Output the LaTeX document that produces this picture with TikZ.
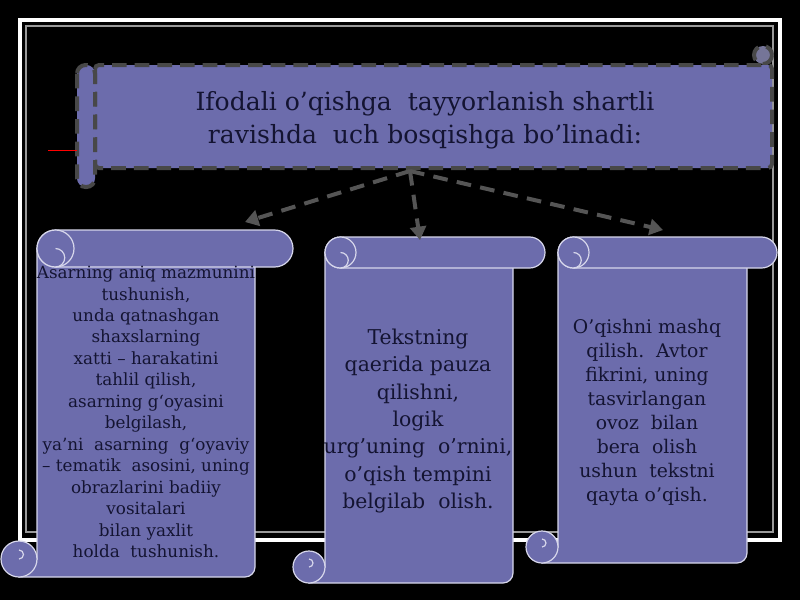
\documentclass[tikz,border=0pt]{standalone}
\usepackage{fontspec}
\setmainfont{DejaVu Serif}
\usetikzlibrary{arrows.meta}

\definecolor{rouleau}{RGB}{108,108,172}
\definecolor{bord}{RGB}{215,215,235}
\definecolor{tiret}{RGB}{72,72,72}
\definecolor{gris}{RGB}{85,85,85}
\definecolor{encre}{RGB}{20,20,50}

\tikzset{
  parchemin/.style={fill=rouleau, draw=bord, line width=0.9pt},
  bande/.style={fill=rouleau, draw=tiret, line width=3pt, dash pattern=on 11pt off 6pt},
  fleche/.style={draw=gris, line width=3pt, dash pattern=on 11pt off 7pt, -{Triangle[length=10pt,width=12pt]}},
  texte/.style={text=encre, align=center, inner sep=0pt},
}

\begin{document}
\begin{tikzpicture}[x=0.75pt, y=-0.75pt]
        % fond et cadre
        \fill[black] (0,0) rectangle (800,600);
        \useasboundingbox (0,0) rectangle (800,600);
        \draw[white, line width=3pt] (20,20) rectangle (780,540);
        \draw[gray!80, line width=1.2pt] (26,26) rectangle (773,532);

        % bandeau du titre
        \draw[bande, fill=rouleau!55!gray] (763,55) circle[radius=9];
        \draw[bande, rounded corners=3pt] (95,65) rectangle (772,168);
        \draw[bande, rounded corners=6.5pt] (77,65) rectangle (95,187);
        \draw[red] (48,150) -- (77,150);
        \node[texte, font=\fontsize{18.8}{24.75}\selectfont] (Title) at (425,120)
        {Ifodali o’qishga\ \ tayyorlanish shartli\\ ravishda\ \ uch bosqishga bo’linadi:};

        % dessin des rouleaux
        \foreach \xa/\xb/\xc/\yt/\yb/\h/\rc/\cx/\cy/\r in {37/293/255/230/577/37/13.9pt/19/559/18,
                 325/545/513/237/583/31/11.6pt/309/567/16,
                 558/777/747/237/563/31/11.6pt/542/547/16}{
          \draw[parchemin] (\xa,{\yt+\h/2}) -- (\xa,\cy) -- (\cx,\cy) -- (\cx,\yb)
            -- ({\xc-10},\yb) arc[start angle=90, end angle=0, radius=10]
            -- (\xc,{\yt+\h/2}) -- cycle;
          \draw[parchemin, rounded corners=\rc] (\xa,\yt) rectangle (\xb,{\yt+\h});
          \draw[parchemin] ({\xa+\h/2},{\yt+\h/2}) circle[radius=\h/2];
          \draw[bord, line width=0.9pt] ({\xa+\h/2},{\yt+\h/2}) arc[start angle=-90, end angle=90, radius=\h/4];
          \draw[parchemin] (\cx,\cy) circle[radius=\r];
          \draw[bord, line width=0.9pt] (\cx,{\cy-\r/2}) arc[start angle=-90, end angle=90, radius=\r/4];
        }

        % textes des rouleaux
        \node[texte, font=\fontsize{12.6}{16.1}\selectfont] (Step1) at (146,412)
        {Asarning aniq mazmunini\\ tushunish,\\ unda qatnashgan\\ shaxslarning\\ xatti – harakatini\\
         tahlil qilish,\\ asarning g‘oyasini\\ belgilash,\\ ya’ni\ \ asarning\ \ g‘oyaviy\\
         – tematik\ \ asosini, uning\\ obrazlarini badiiy\\ vositalari\\ bilan yaxlit\\ holda\ \ tushunish.};
        \node[texte, font=\fontsize{15.3}{20.5}\selectfont] (Step2) at (418,421)
        {Tekstning\\ qaerida pauza\\ qilishni,\\ logik\\ urg’uning\ \ o’rnini,\\ o’qish tempini\\ belgilab\ \ olish.};
        \node[texte, font=\fontsize{14.1}{18}\selectfont] (Step3) at (647,412)
        {O’qishni mashq\\ qilish.\ \ Avtor\\ fikrini, uning\\ tasvirlangan\\ ovoz\ \ bilan\\ bera\ \ olish\\ ushun\ \ tekstni\\ qayta o’qish.};

        % fleches vers les etapes
        \coordinate (Fork) at (410,171);
        \coordinate (End1) at (245,222);
        \coordinate (End2) at (420,240);
        \coordinate (End3) at (663,230);
        \draw[fleche] (Fork) -- (End1);
        \draw[fleche] (Fork) -- (End2);
        \draw[fleche] (Fork) -- (End3);
\end{tikzpicture}
\end{document}
